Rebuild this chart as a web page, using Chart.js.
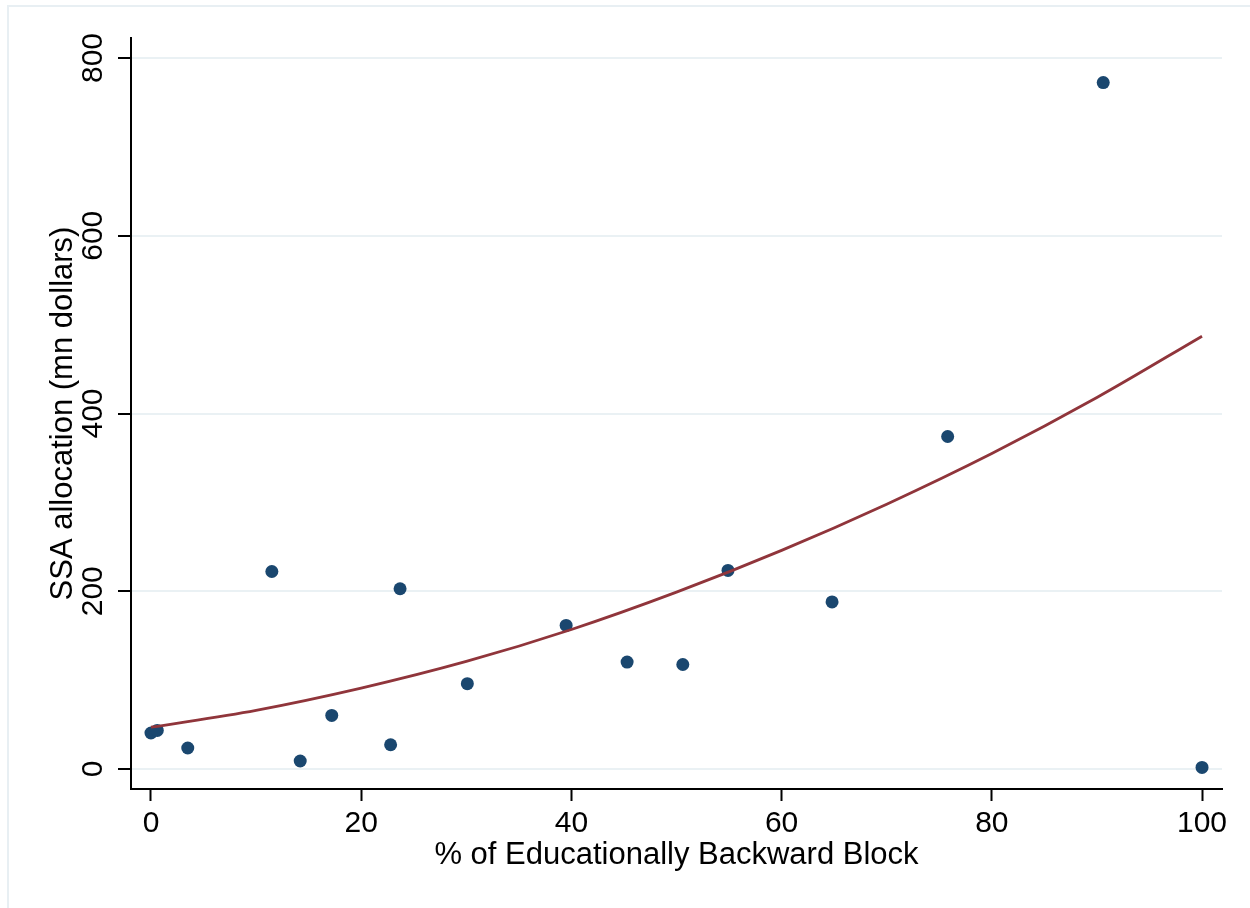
<!DOCTYPE html>
<html>
<head>
<meta charset="utf-8">
<script src="https://cdn.jsdelivr.net/npm/chart.js@4.4.1/dist/chart.umd.min.js"></script>
<style>
  html, body { margin: 0; padding: 0; background: #ffffff; }
  #wrap { position: relative; width: 1250px; height: 908px; }
  canvas { display: block; }
</style>
</head>
<body>
<div id="wrap"><canvas id="chart" width="1250" height="908"></canvas></div>
<script>
// Share of educationally backward blocks (%) per state
const backwardShare = [0, 0.6, 3.5, 11.5, 14.2, 17.2, 22.8, 23.7, 30.1, 39.5, 45.3, 50.6, 54.9, 64.8, 75.8, 90.6, 100];
// SSA allocation, million dollars
const ssaAllocation = [40.5, 43.4, 23.6, 222.2, 9.0, 60.3, 27.3, 202.8, 96.0, 161.5, 120.3, 117.6, 223.4, 188.0, 374.1, 772.3, 1.8];

// Fitted curve values
const fitShare = [0, 10, 20, 30, 40, 50, 60, 70, 80, 90, 100];
const fitAllocation = [47, 66, 91, 121, 157, 199, 246, 298, 355, 418, 487];

const xTicks = [0, 20, 40, 60, 80, 100];
const yTicks = [0, 200, 400, 600, 800];

const xTitle = '% of Educationally Backward Block';
const yTitle = 'SSA allocation (mn dollars)';

const FONT = '"Liberation Sans", Arial, Helvetica, sans-serif';

const points = backwardShare.map((x, i) => ({ x: x, y: ssaAllocation[i] }));
const fitPoints = fitShare.map((x, i) => ({ x: x, y: fitAllocation[i] }));

// Text drawn by hand: rotated y tick labels, axis titles, outer frame
const textPlugin = {
  id: 'stataText',
  afterDraw(chart) {
    const ctx = chart.ctx;
    const xs = chart.scales.x, ys = chart.scales.y;
    ctx.save();
    // light outer frame
    ctx.strokeStyle = '#e8eff3';
    ctx.lineWidth = 2;
    ctx.beginPath();
    ctx.moveTo(8, 908);
    ctx.lineTo(8, 6);
    ctx.lineTo(1250, 6);
    ctx.stroke();

    ctx.fillStyle = '#000000';
    ctx.textAlign = 'center';
    ctx.textBaseline = 'alphabetic';
    ctx.font = '30px ' + FONT;
    xTicks.forEach(v => ctx.fillText(String(v), xs.getPixelForValue(v), 832));
    yTicks.forEach(v => {
      ctx.save();
      ctx.translate(102, ys.getPixelForValue(v));
      ctx.rotate(-Math.PI / 2);
      ctx.fillText(String(v), 0, 0);
      ctx.restore();
    });
    ctx.font = '31px ' + FONT;
    ctx.fillText(xTitle, (chart.chartArea.left + chart.chartArea.right) / 2, 864);
    ctx.save();
    ctx.translate(72, (chart.chartArea.top + chart.chartArea.bottom) / 2);
    ctx.rotate(-Math.PI / 2);
    ctx.fillText(yTitle, 0, 0);
    ctx.restore();
    ctx.restore();
  }
};

new Chart(document.getElementById('chart'), {
  type: 'scatter',
  data: {
    datasets: [
      {
        label: 'SSA allocation',
        data: points,
        backgroundColor: '#1a476f',
        borderWidth: 0,
        pointRadius: 6.5,
        pointHoverRadius: 6.5,
        order: 2
      },
      {
        label: 'Fitted values',
        type: 'line',
        data: fitPoints,
        borderColor: '#90353b',
        borderWidth: 2.8,
        pointRadius: 0,
        fill: false,
        cubicInterpolationMode: 'monotone',
        order: 1
      }
    ]
  },
  options: {
    responsive: false,
    animation: false,
    events: [],
    layout: { padding: { left: 0, top: 38, right: 28, bottom: 0 } },
    plugins: {
      legend: { display: false },
      tooltip: { enabled: false }
    },
    scales: {
      x: {
        type: 'linear',
        position: 'bottom',
        min: -1.9,
        max: 101.9,
        afterBuildTicks(scale) { scale.ticks = xTicks.map(v => ({ value: v })); },
        afterFit(scale) { scale.height = 908 - 789; },
        ticks: { display: false },
        grid: {
          display: true,
          drawOnChartArea: false,
          drawTicks: true,
          tickLength: 12,
          tickColor: '#000000',
          tickWidth: 2
        },
        border: { display: true, color: '#000000', width: 2 }
      },
      y: {
        type: 'linear',
        position: 'left',
        min: -22.5,
        max: 822.5,
        afterBuildTicks(scale) { scale.ticks = yTicks.map(v => ({ value: v })); },
        afterFit(scale) { scale.width = 131; },
        ticks: { display: false },
        grid: {
          display: true,
          drawOnChartArea: true,
          color: '#eaf1f4',
          lineWidth: 2,
          drawTicks: true,
          tickLength: 13,
          tickColor: '#000000',
          tickWidth: 2
        },
        border: { display: true, color: '#000000', width: 2 }
      }
    }
  },
  plugins: [textPlugin]
});
</script>
</body>
</html>
